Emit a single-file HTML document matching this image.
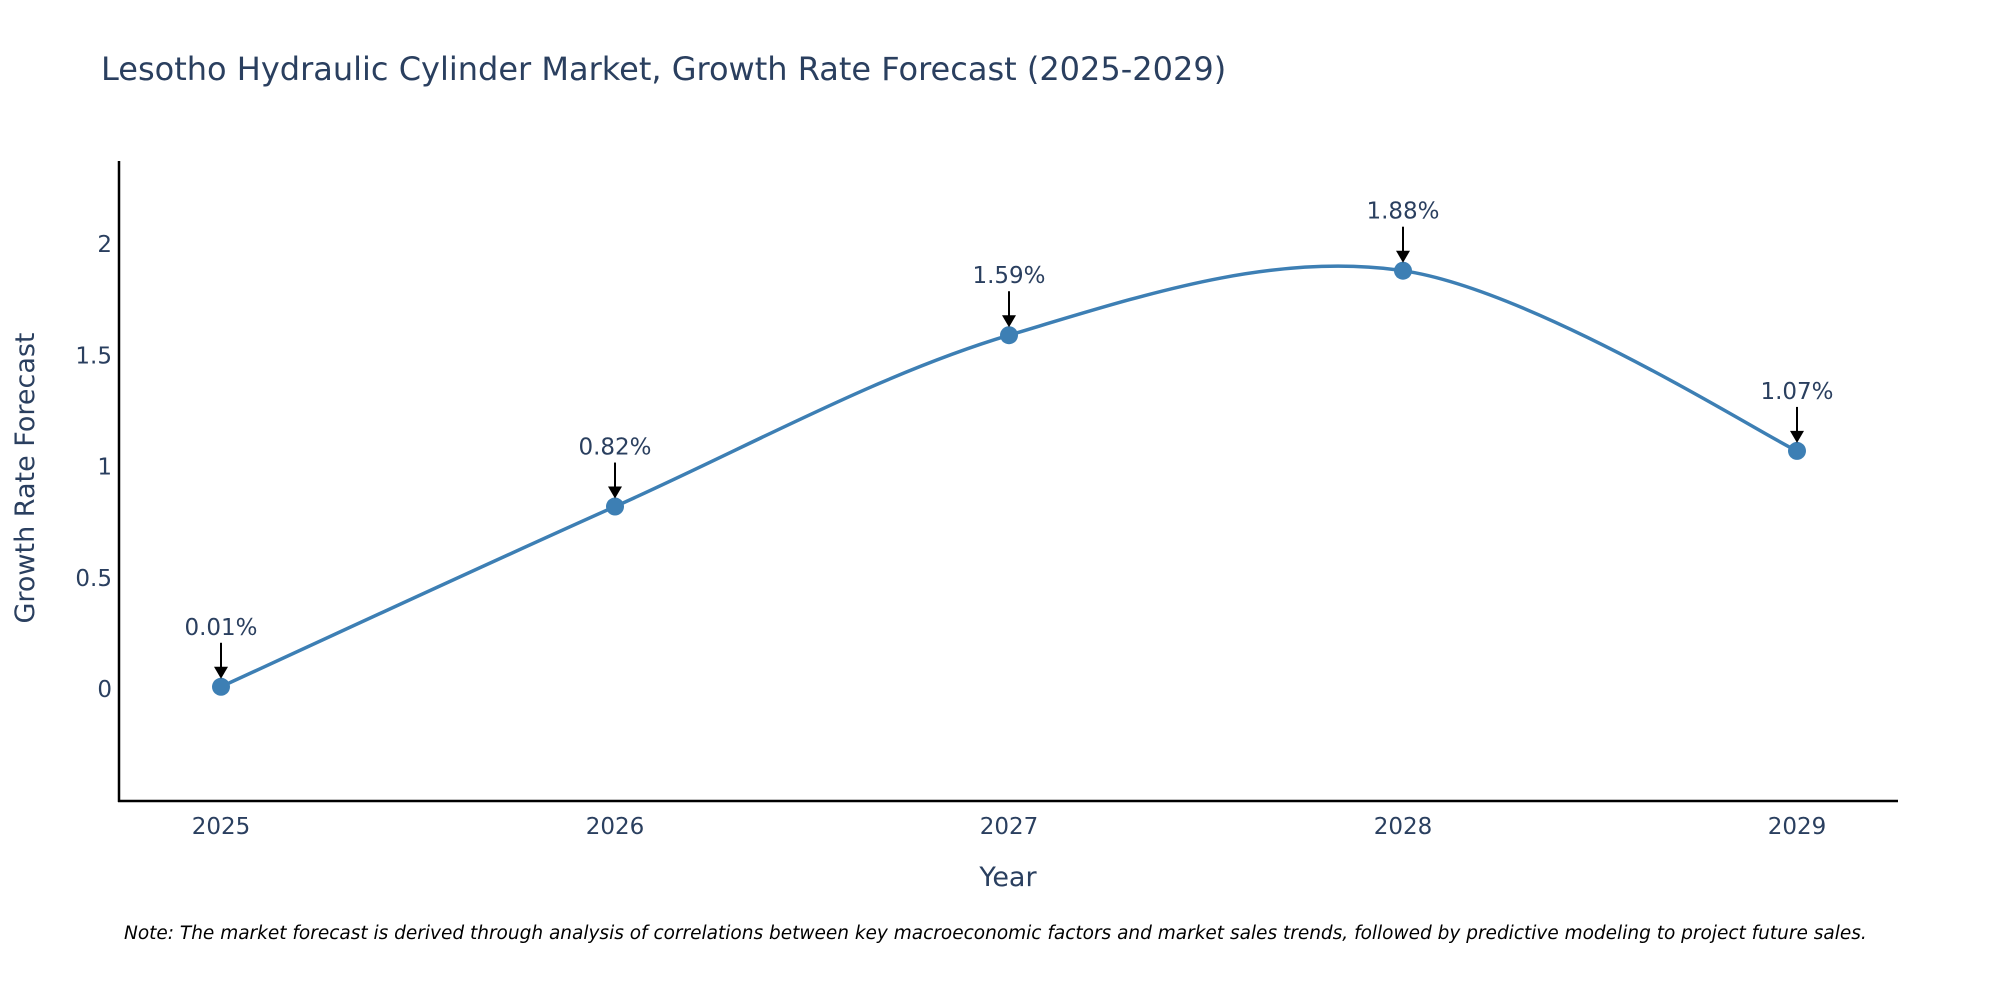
<!DOCTYPE html>
<html><head><meta charset="utf-8"><style>
body{margin:0;background:#fff;overflow:hidden;}
svg{display:block;font-family:"DejaVu Sans","Liberation Sans",sans-serif;}
</style></head><body>
<svg id="chart" width="2000" height="1000" viewBox="0 0 2000 1000">
<text x="101" y="80" font-size="32" fill="#2a3f5f">Lesotho Hydraulic Cylinder Market, Growth Rate Forecast (2025-2029)</text>
<g id="yticks"></g><g id="xticks"></g>
<line x1="119" y1="161" x2="119" y2="802" stroke="#000" stroke-width="2.5"/>
<line x1="118" y1="801" x2="1898" y2="801" stroke="#000" stroke-width="2.5"/>
<path id="line" fill="none" stroke="#3d7fb4" stroke-width="3.5"/>
<g id="points"></g><g id="annots"></g>
<text x="1008" y="886" font-size="27" fill="#2a3f5f" text-anchor="middle">Year</text>
<text transform="translate(34,478) rotate(-90)" font-size="27" fill="#2a3f5f" text-anchor="middle">Growth Rate Forecast</text>
<text x="124" y="939" font-size="18.5" font-style="italic" fill="#000">Note: The market forecast is derived through analysis of correlations between key macroeconomic factors and market sales trends, followed by predictive modeling to project future sales.</text>
</svg>
<script>
const years=[2025,2026,2027,2028,2029];
const values=[0.01,0.82,1.59,1.88,1.07];
const labels=["0.01%","0.82%","1.59%","1.88%","1.07%"];
const yTicks=[0,0.5,1,1.5,2];
const yTickLabels=["0","0.5","1","1.5","2"];
const NS="http://www.w3.org/2000/svg";
function xs(v){return 221+(v-2025)*394;}
function ys(v){return 689-v*222.5;}
function mk(tag,attrs,parent){const e=document.createElementNS(NS,tag);for(const k in attrs)e.setAttribute(k,attrs[k]);parent.appendChild(e);return e;}
const yt=document.getElementById('yticks');
yTicks.forEach((t,i)=>{const e=mk('text',{x:112,y:ys(t)+8,'font-size':23,fill:'#2a3f5f','text-anchor':'end'},yt);e.textContent=yTickLabels[i];

});
const xt=document.getElementById('xticks');
years.forEach(y=>{const e=mk('text',{x:xs(y),y:834,'font-size':23,fill:'#2a3f5f','text-anchor':'middle'},xt);e.textContent=y;

});
const P=years.map((y,i)=>[xs(y),ys(values[i])]);
let d='M'+P[0][0]+','+P[0][1];
const s=0.5;
for(let i=0;i<P.length-1;i++){
 const p0=P[Math.max(i-1,0)],p1=P[i],p2=P[i+1],p3=P[Math.min(i+2,P.length-1)];
 const c1=[p1[0]+(p2[0]-p0[0])*s/3*(i==0?0.5:1),p1[1]+(p2[1]-p0[1])*s/3*(i==0?0.5:1)];
 const last=i==P.length-2;
 const c2=[p2[0]-(p3[0]-p1[0])*s/3*(last?0.5:1),p2[1]-(p3[1]-p1[1])*s/3*(last?0.5:1)];
 d+=` C${c1[0]},${c1[1]} ${c2[0]},${c2[1]} ${p2[0]},${p2[1]}`;
}
document.getElementById('line').setAttribute('d',d);
const pts=document.getElementById('points'),an=document.getElementById('annots');
P.forEach((p,i)=>{
 const c=mk('circle',{cx:p[0],cy:p[1],r:9,fill:'#3d7fb4'},pts);
 
 
 const l=mk('line',{x1:p[0],y1:p[1]-44,x2:p[0],y2:p[1]-18,stroke:'#000','stroke-width':2},an);
 
 
 const a=mk('polygon',{points:`${p[0]-7},${p[1]-20} ${p[0]+7},${p[1]-20} ${p[0]},${p[1]-8}`,fill:'#000'},an);
 
 
 const t=mk('text',{x:p[0],y:p[1]-52,'font-size':23,fill:'#2a3f5f','text-anchor':'middle'},an);
 t.textContent=labels[i];
 
 
});
</script>
</body></html>
